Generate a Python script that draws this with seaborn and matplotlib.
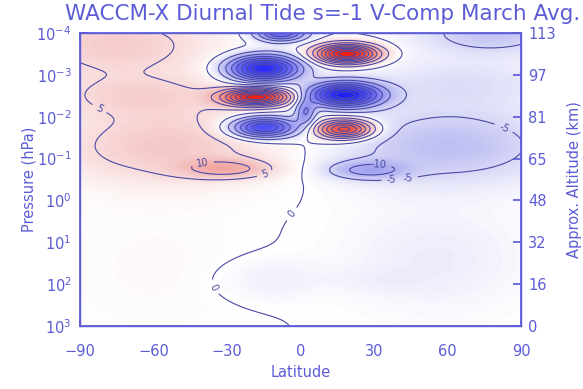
import numpy as np
import matplotlib
matplotlib.use("Agg")
import matplotlib.pyplot as plt
from matplotlib.colors import LinearSegmentedColormap
import seaborn as sns

# Latitude / log10(pressure) grid
lat = np.linspace(-90, 90, 361)
logp = np.linspace(-4, 3, 351)

# Tide amplitude structure (m/s): Gaussian cells
# centre latitude, centre log10(p), amplitude, lat half-width, log10(p) half-width
cell_lat = [-15, -18, -15, 19, 18, 18, -8, 2,
            -75, -65, -55, -30, 78, 65, 60, 27,
            -60, 55, -12, 30]
cell_lp = [-3.15, -2.47, -1.74, -3.5, -2.52, -1.7, -4.0, -2.1,
           -3.7, -2.5, -1.3, -0.75, -4.0, -2.8, -1.3, -0.72,
           1.6, 1.4, 1.9, 1.9]
cell_amp = [-40, 42, -32, 44, -42, 34, -25, -14,
            7, 5, 7.5, 9.5, -7.5, -3.8, -8, -9.5,
            0.8, -2.4, -2.0, -1.0]
cell_slat = [14, 13, 13, 12, 14, 11, 10, 4,
             40, 40, 45, 18, 30, 40, 45, 16,
             35, 35, 20, 20]
cell_slp = [0.3, 0.2, 0.24, 0.22, 0.28, 0.22, 0.2, 0.3,
            0.8, 0.5, 0.9, 0.22, 0.5, 0.6, 0.9, 0.22,
            1.5, 1.2, 0.45, 0.3]

# Tick labels
lat_ticks = [-90, -60, -30, 0, 30, 60, 90]
p_ticks = [1e-4, 1e-3, 1e-2, 1e-1, 1e0, 1e1, 1e2, 1e3]
alt_labels = ["113", "97", "81", "65", "48", "32", "16", "0"]

LAT, LP = np.meshgrid(lat, logp)
field = np.zeros_like(LAT)
for la, lp, a, sl, sp in zip(cell_lat, cell_lp, cell_amp, cell_slat, cell_slp):
    field += a * np.exp(-((LAT - la) / sl) ** 2 - ((LP - lp) / sp) ** 2)

pres = 10.0 ** LP

sns.set_theme(style="white")
ink = "#5c5cd6"
line_col = "#4a4aa6"
plt.rcParams["font.family"] = ["DejaVu Sans"]

cmap = LinearSegmentedColormap.from_list("tide", [
    (0.0, "#2020f8"), (0.25, "#6e6ef2"), (0.4, "#bcbcf2"), (0.5, "#ffffff"),
    (0.6, "#f4c2c2"), (0.75, "#f27a6a"), (1.0, "#ee2010")])

fig = plt.figure(figsize=(5.83, 3.89), dpi=100)
ax = fig.add_axes([80 / 583, 1 - 326 / 389, 441 / 583, 293 / 389])
ax.pcolormesh(LAT, pres, field, cmap=cmap, vmin=-42, vmax=42, shading="gouraud")

low_levels = [-10, -5, 0, 5, 10]
high_levels = [v for v in range(-45, 46, 5) if v not in low_levels]
ax.contour(LAT, pres, field, levels=high_levels, colors=line_col, linewidths=0.8,
           linestyles="solid")
cs = ax.contour(LAT, pres, field, levels=low_levels, colors=line_col, linewidths=0.8,
                linestyles="solid")
ax.set_yscale("log")
ax.set_ylim(1e3, 1e-4)
ax.set_xlim(-90, 90)

label_pts = [(-82, 10 ** -2.2), (-40, 10 ** -0.95), (-12, 10 ** -0.2),
             (85, 10 ** -2.0), (32, 10 ** -0.95), (45, 10 ** 0.0),
             (-3, 10 ** 0.35), (40, 10 ** 2.1), (-40, 10 ** 2.2)]
ax.clabel(cs, manual=label_pts, fmt="%d", fontsize=7, colors=line_col, inline=True)

ax.set_xticks(lat_ticks)
ax.set_xticks(np.arange(-90, 91, 10), minor=True)
ax.set_yticks(p_ticks)
ax.yaxis.set_minor_locator(matplotlib.ticker.NullLocator())
ax.tick_params(axis="both", which="major", direction="in", length=6, color=ink,
               labelcolor=ink, labelsize=10.5, top=True, bottom=True, left=True)
ax.tick_params(axis="x", which="major", pad=13)
ax.tick_params(axis="y", which="major", pad=6)
ax.tick_params(axis="x", which="minor", direction="in", length=3, color=ink,
               top=True, bottom=True)
for s in ax.spines.values():
    s.set_color(ink)
    s.set_linewidth(1.0)

ax.set_xlabel("Latitude", color=ink, fontsize=10.5, labelpad=4)
ax.set_ylabel("Pressure (hPa)", color=ink, fontsize=10.5, labelpad=0)

ax2 = ax.twinx()
ax2.set_yscale("log")
ax2.set_ylim(1e3, 1e-4)
ax2.set_yticks(p_ticks)
ax2.set_yticklabels(alt_labels)
ax2.yaxis.set_minor_locator(matplotlib.ticker.NullLocator())
ax2.tick_params(axis="y", direction="in", length=6, color=ink, labelcolor=ink,
                labelsize=10.5, pad=5)
ax2.set_ylabel("Approx. Altitude (km)", color=ink, fontsize=10.5, labelpad=8)
for s in ax2.spines.values():
    s.set_color(ink)

fig.suptitle("WACCM-X Diurnal Tide s=-1 V-Comp March Avg.", color=ink, fontsize=15.5,
             x=0.553, y=0.99)

fig.savefig("out.png", dpi=100)
